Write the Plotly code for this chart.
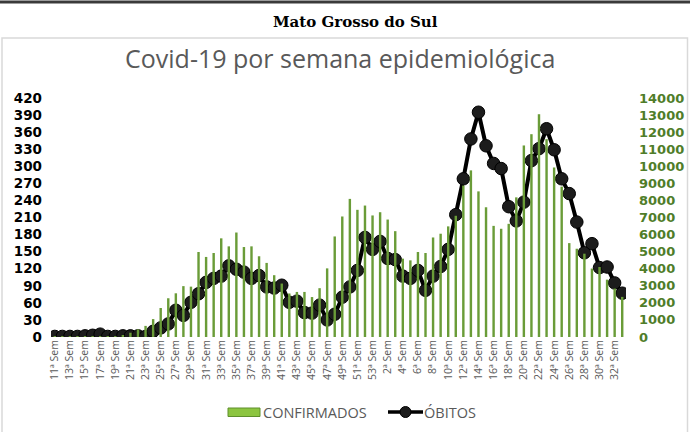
import plotly.graph_objects as go

# ---- data ----
weeks_2020 = list(range(11, 54))
weeks_2021 = list(range(1, 34))
week_labels = [f"{w}ª Sem" for w in weeks_2020 + weeks_2021]
x_idx = list(range(len(week_labels)))

confirmados = [2, 3, 5, 10, 20, 30, 40, 30, 40, 100, 250, 450, 650, 1050, 1700, 2270,
               2560, 2980, 2950, 4980, 4690, 4920, 5780, 5310, 6120, 5270, 5310, 4730,
               4340, 3620, 3130, 2550, 2640, 2640, 2340, 2860, 4020, 5890, 7060, 8090,
               7450, 7700, 7120, 7310, 6880, 6200, 4590, 4490, 4980, 4920, 5830, 6050,
               6480, 7100, 8870, 9760, 8530, 7600, 6510, 6340, 6630, 8180, 11220, 11880,
               13050, 11590, 9930, 8810, 5500, 5170, 4880, 4010, 4100, 3360, 2840, 2350]

obitos = [1, 1, 1, 1, 2, 3, 5, 1, 1, 2, 2, 2, 1, 10, 16, 23, 47, 38, 61, 76, 96, 103,
          107, 125, 119, 114, 103, 108, 88, 86, 91, 61, 63, 43, 42, 56, 30, 40, 70, 88,
          117, 175, 154, 168, 138, 136, 107, 103, 117, 82, 107, 124, 154, 215, 278, 348,
          395, 336, 305, 296, 229, 204, 237, 310, 331, 366, 329, 278, 252, 202, 148, 164,
          122, 123, 95, 77]

left_ticks = list(range(0, 421, 30))
right_ticks = list(range(0, 14001, 1000))
right_tick_text = [str(v) for v in right_ticks]

# ---- layout geometry (pixels) ----
W, H = 690, 432
ML, MR, MT, MB = 51, 64, 98, 95
PW, PH = W - ML - MR, H - MT - MB


def px(x):
    return (x - ML) / PW


def py(y):
    return (H - MB - y) / PH


fig = go.Figure()
fig.add_trace(go.Bar(
    x=x_idx, y=confirmados, name="CONFIRMADOS", yaxis="y2",
    marker=dict(color="#6a9c38", line=dict(width=0)),
    width=0.32, showlegend=False,
))
fig.add_trace(go.Scatter(
    x=x_idx, y=obitos, name="ÓBITOS", mode="lines+markers",
    line=dict(color="#000000", width=4),
    marker=dict(symbol="circle", size=12.5, color="#1c1c1c",
                line=dict(color="#000000", width=1)),
    showlegend=False,
))

shapes = [
    # top rule
    dict(type="line", xref="paper", yref="paper", x0=px(0), x1=px(W),
         y0=py(2), y1=py(2), line=dict(color="#3a3a3a", width=3)),
    # chart box
    dict(type="rect", xref="paper", yref="paper", x0=px(2), x1=px(687.5),
         y0=py(440), y1=py(38), line=dict(color="#d9d9d9", width=1.5),
         fillcolor="rgba(0,0,0,0)", layer="below"),
    # legend: confirmados swatch
    dict(type="rect", xref="paper", yref="paper", x0=px(228), x1=px(260),
         y0=py(416.5), y1=py(408), fillcolor="#8cc540",
         line=dict(color="#5e8f2b", width=1)),
    # legend: obitos line
    dict(type="line", xref="paper", yref="paper", x0=px(388), x1=px(423),
         y0=py(412), y1=py(412), line=dict(color="#000000", width=3.5)),
    dict(type="circle", xref="paper", yref="paper", x0=px(400), x1=px(411),
         y0=py(417.5), y1=py(406.5), fillcolor="#1c1c1c",
         line=dict(color="#000000", width=1)),
]

annotations = [
    dict(text="<b>Mato Grosso do Sul</b>", xref="paper", yref="paper",
         x=px(355), y=py(22), xanchor="center", yanchor="middle", showarrow=False,
         font=dict(family="DejaVu Serif", size=15, color="#000000")),
    dict(text="Covid-19 por semana epidemiológica", xref="paper", yref="paper",
         x=px(340), y=py(58), xanchor="center", yanchor="middle", showarrow=False,
         font=dict(family="Open Sans", size=25, color="#595959")),
    dict(text="CONFIRMADOS", xref="paper", yref="paper",
         x=px(261), y=py(412), xanchor="left", yanchor="middle", showarrow=False,
         font=dict(family="Open Sans", size=14.5, color="#595959")),
    dict(text="ÓBITOS", xref="paper", yref="paper",
         x=px(422), y=py(412), xanchor="left", yanchor="middle", showarrow=False,
         font=dict(family="Open Sans", size=14.5, color="#595959")),
]

fig.update_layout(
    width=W, height=H,
    margin=dict(l=ML, r=MR, t=MT, b=MB, autoexpand=False),
    paper_bgcolor="white", plot_bgcolor="white",
    bargap=0.6,
    shapes=shapes, annotations=annotations,
    xaxis=dict(
        range=[-0.5, len(x_idx) - 0.5],
        tickmode="array", tickvals=x_idx[::2], ticktext=week_labels[::2],
        tickangle=-90, tickfont=dict(family="Open Sans", size=10.5, color="#595959"),
        showgrid=False, zeroline=False, showline=False, ticks="",
    ),
    yaxis=dict(
        range=[0, 420], tickmode="array", tickvals=left_ticks,
        tickfont=dict(family="DejaVu Sans", size=13.5, color="#000000", weight="bold"),
        showgrid=False, zeroline=False, showline=False, ticks="",
        ticklabelstandoff=8,
    ),
    yaxis2=dict(
        range=[0, 14000], tickmode="array", tickvals=right_ticks,
        ticktext=right_tick_text,
        overlaying="y", side="right",
        tickfont=dict(family="DejaVu Sans", size=13, color="#4f7d29", weight="bold"),
        showgrid=False, zeroline=False, showline=False, ticks="",
        ticklabelstandoff=12,
    ),
)

fig.write_html("out.html", config={"displayModeBar": False},
               post_script="document.body.style.margin='0px';")
